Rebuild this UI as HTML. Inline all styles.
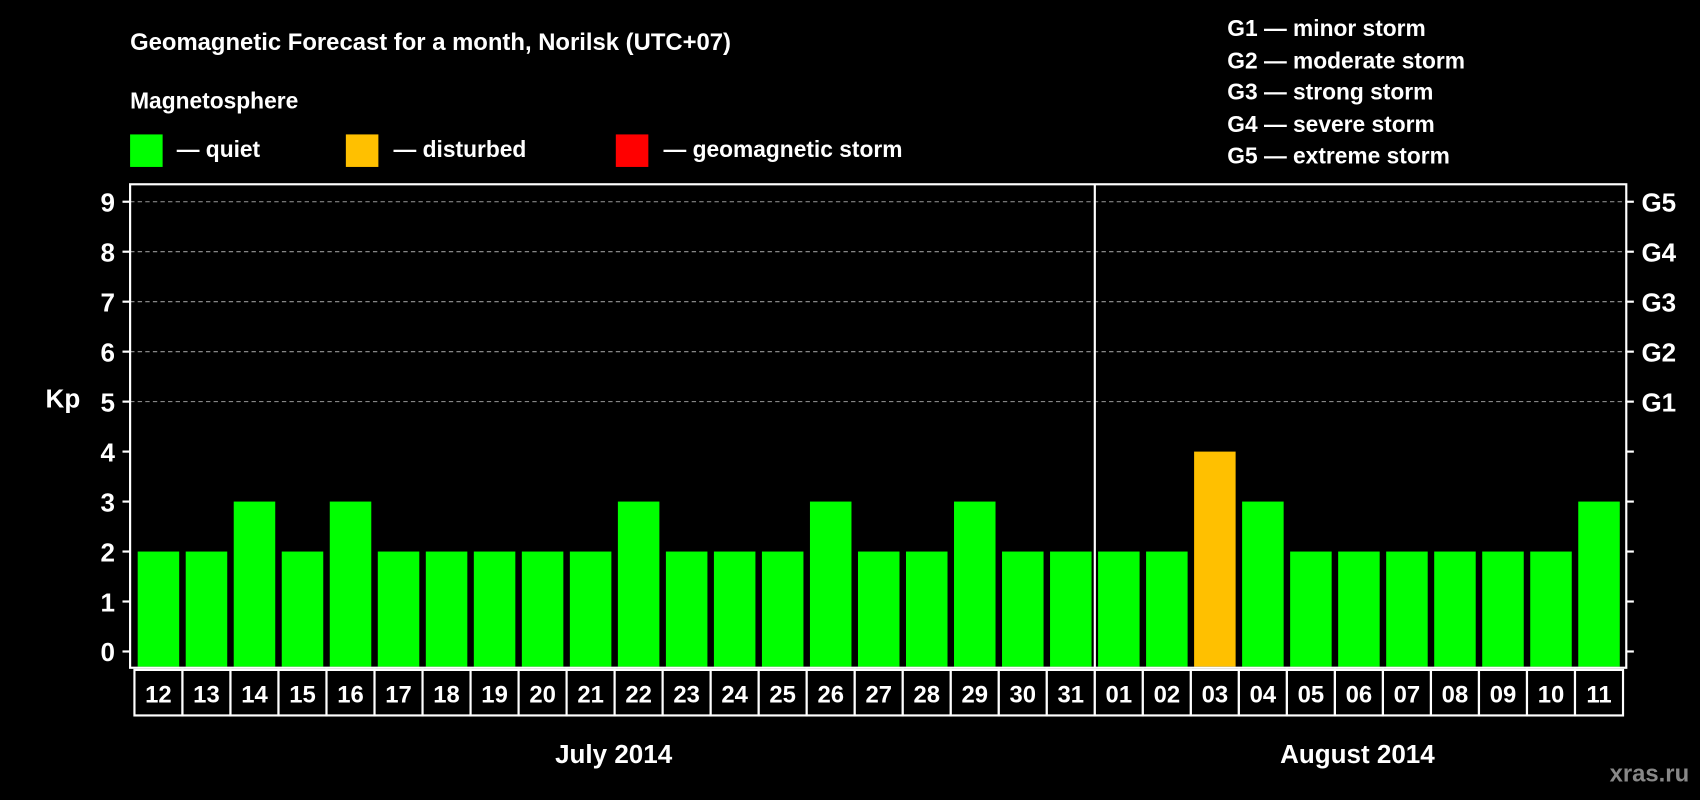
<!DOCTYPE html>
<html><head><meta charset="utf-8"><style>
html,body{margin:0;padding:0;background:#000;}
svg{display:block;font-family:"Liberation Sans",Arial,sans-serif;font-weight:bold;}
</style></head><body>
<svg id="chart" width="1700" height="800" viewBox="0 0 1568 738" preserveAspectRatio="none">
<rect width="1568" height="738" fill="#000"/>
<text x="120" y="46" fill="#fff" font-size="22">Geomagnetic Forecast for a month, Norilsk (UTC+07)</text>
<text x="120" y="100" fill="#fff" font-size="21">Magnetosphere</text>
<g><rect x="120" y="124" width="30" height="30" fill="#00ff00"/><text x="163" y="145" fill="#fff" font-size="21">— quiet</text></g>
<g><rect x="319" y="124" width="30" height="30" fill="#ffc000"/><text x="363" y="145" fill="#fff" font-size="21">— disturbed</text></g>
<g><rect x="568" y="124" width="30" height="30" fill="#ff0000"/><text x="612" y="145" fill="#fff" font-size="21">— geomagnetic storm</text></g>
<g fill="#fff" font-size="21">
<text x="1132" y="33">G1 — minor storm</text>
<text x="1132" y="63">G2 — moderate storm</text>
<text x="1132" y="92">G3 — strong storm</text>
<text x="1132" y="122">G4 — severe storm</text>
<text x="1132" y="151">G5 — extreme storm</text>
</g>
<g id="grid"></g>
<g id="bars"></g>
<rect x="120" y="170" width="1380" height="446" fill="none" stroke="#fff" stroke-width="2"/>
<line x1="1009.8" y1="170" x2="1009.8" y2="616" stroke="#fff" stroke-width="2"/>
<g id="axes"></g>
<g id="dates"></g>
<text x="58" y="376" fill="#fff" font-size="24" text-anchor="middle">Kp</text>
<text x="566" y="704" fill="#fff" font-size="24" text-anchor="middle">July 2014</text>
<text x="1252" y="704" fill="#fff" font-size="24" text-anchor="middle">August 2014</text>
<text x="1558" y="721" fill="#888" font-size="22" text-anchor="end">xras.ru</text>
</svg>
<script>
const days = ["12","13","14","15","16","17","18","19","20","21","22","23","24","25","26","27","28","29","30","31","01","02","03","04","05","06","07","08","09","10","11"];
const kpValues = [2,2,3,2,3,2,2,2,2,2,3,2,2,2,3,2,2,3,2,2,2,2,4,3,2,2,2,2,2,2,3];
const yTicks = [0,1,2,3,4,5,6,7,8,9];
const gLabels = ["","","","","","G1","G2","G3","G4","G5"];
const NS="http://www.w3.org/2000/svg";
const x0=124, cw=(1497-124)/31;
function y(v){return 601 - v*46.1;}
function xc(i){return x0 + cw*i;}
function mk(t,a,p){const e=document.createElementNS(NS,t);for(const k in a)e.setAttribute(k,a[k]);p.appendChild(e);return e;}
const grid=document.getElementById('grid'),bars=document.getElementById('bars'),axes=document.getElementById('axes'),dates=document.getElementById('dates');
yTicks.forEach((v,i)=>{
  if(v>=5){const l=mk('line',{x1:120,x2:1500,y1:y(v),y2:y(v),stroke:'#999','stroke-dasharray':'4,3','stroke-width':1},grid);
  
  }
  const t1=mk('line',{x1:113,x2:120,y1:y(v),y2:y(v),stroke:'#fff','stroke-width':2},axes);
  
  
  const t2=mk('line',{x1:1500,x2:1507,y1:y(v),y2:y(v),stroke:'#fff','stroke-width':2},axes);
  
  
  const lb=mk('text',{x:106,y:y(v)+9,fill:'#fff','font-size':24,'text-anchor':'end'},axes);lb.textContent=v;
  
  
  if(gLabels[i]){const g=mk('text',{x:1514,y:y(v)+9,fill:'#fff','font-size':24},axes);g.textContent=gLabels[i];
  
  }
});
kpValues.forEach((v,i)=>{
  const col=v>=5?'#ff0000':(v>=4?'#ffc000':'#00ff00');
  const top=y(v), bot=615;
  const r=mk('rect',{x:xc(i)+3,y:top,width:cw-6,height:bot-top,fill:col},bars);
  
  
});
days.forEach((d,i)=>{
  const c=mk('rect',{x:xc(i),y:618,width:cw,height:42,fill:'#000',stroke:'#fff','stroke-width':2},dates);
  
  
  const t=mk('text',{x:xc(i)+cw/2,y:648,fill:'#fff','font-size':22,'text-anchor':'middle'},dates);t.textContent=d;
  
  
});
</script>
</body></html>
